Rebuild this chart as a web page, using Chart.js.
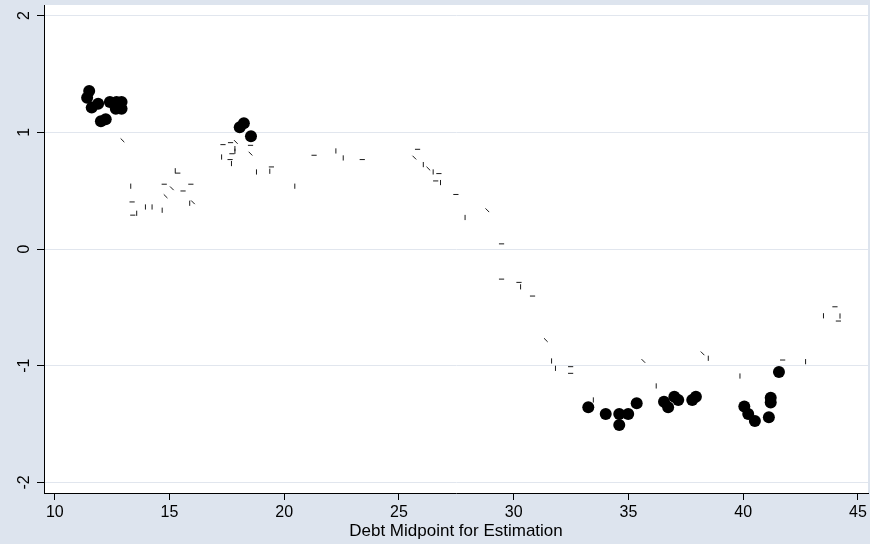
<!DOCTYPE html>
<html lang="en">
<head>
<meta charset="UTF-8">
<title>Debt Midpoint for Estimation</title>
<script src="https://cdn.jsdelivr.net/npm/chart.js"></script>
<style>
  html, body { margin: 0; padding: 0; background: #dde4ee; }
  canvas { display: block; }
</style>
</head>
<body>
<canvas id="chart" width="870" height="544"></canvas>
<script>
// large black markers
const dotX = [11.50, 11.41, 11.61, 11.89, 12.01, 12.22, 12.40, 12.69, 12.91, 12.66, 12.91,
              18.06, 18.24, 18.55,
              33.25, 34.01, 34.60, 34.60, 34.99, 35.36, 36.55, 36.73, 37.00, 37.17, 37.78, 37.94,
              40.05, 40.22, 40.51, 41.12, 41.20, 41.20, 41.56];
const dotY = [1.353, 1.296, 1.211, 1.245, 1.094, 1.111, 1.259, 1.259, 1.259, 1.202, 1.202,
              1.042, 1.077, 0.965,
              -1.355, -1.413, -1.413, -1.507, -1.413, -1.321, -1.308, -1.355, -1.265, -1.293, -1.293, -1.265,
              -1.350, -1.413, -1.473, -1.441, -1.275, -1.315, -1.053];

// small flat dashes
const flatX = [15.36, 14.77, 15.59, 15.93, 13.37, 13.40,
               17.33, 17.66, 17.72, 17.64, 18.53, 19.44, 21.30, 23.40,
               25.81, 26.74, 26.60, 27.48, 29.47, 29.47, 30.23, 30.82, 32.48, 32.48,
               41.72, 44.00, 44.15];
const flatY = [0.650, 0.555, 0.497, 0.555, 0.403, 0.290,
               0.894, 0.911, 0.816, 0.766, 0.888, 0.703, 0.803, 0.766,
               0.854, 0.646, 0.583, 0.467, 0.044, -0.258, -0.286, -0.403, -1.008, -1.065,
               -0.951, -0.495, -0.617];

// small upright dashes
const uprightX = [15.25, 13.31, 15.88, 13.95, 14.24, 14.68, 13.57,
                  17.85, 17.85, 17.70, 17.27, 18.79, 19.37, 20.46, 22.25, 22.57,
                  26.06, 26.49, 26.81, 27.88, 30.30, 31.65, 31.82,
                  33.47, 36.21, 38.48, 39.86, 42.72, 43.50, 44.22];
const uprightY = [0.670, 0.538, 0.392, 0.360, 0.360, 0.332, 0.306,
                  0.860, 0.837, 0.732, 0.788, 0.660, 0.666, 0.538, 0.840, 0.780,
                  0.723, 0.660, 0.569, 0.270, -0.324, -0.959, -1.022,
                  -1.293, -1.173, -0.936, -1.088, -0.965, -0.572, -0.574];

// small slanted dashes
const slantX = [12.95, 15.10, 14.83, 16.02, 17.89, 18.53, 25.67, 26.28, 28.85, 31.40, 35.65, 38.23];
const slantY = [0.931, 0.520, 0.452, 0.400, 0.917, 0.817, 0.783, 0.689, 0.332, -0.780, -0.959, -0.894];

const xTicks = [10, 15, 20, 25, 30, 35, 40, 45];
const yTicks = [-2, -1, 0, 1, 2];

const FONT = '"Liberation Sans", Arial, sans-serif';

function pts(xs, ys) {
    return xs.map((x, i) => ({x: x, y: ys[i]}));
}

function dashSet(xs, ys, angle) {
    return {
        data: pts(xs, ys),
        pointStyle: 'line',
        rotation: angle,
        pointRadius: 2.6,
        borderColor: '#1a1a1a',
        borderWidth: 1,
        showLine: false
    };
}

const background = {
    id: 'background',
    beforeDraw: (chart) => {
        const {ctx, chartArea: a} = chart;
        ctx.save();
        ctx.fillStyle = '#dde4ee';
        ctx.fillRect(0, 0, chart.width, chart.height);
        ctx.fillStyle = '#ffffff';
        ctx.fillRect(a.left, a.top, a.right - a.left, a.bottom - a.top);
        ctx.restore();
    }
};

// y labels are drawn turned, reading upward
const yLabels = {
    id: 'yLabels',
    afterDraw: (chart) => {
        const {ctx, scales} = chart;
        ctx.save();
        ctx.font = '16px ' + FONT;
        ctx.fillStyle = '#000';
        ctx.textAlign = 'center';
        ctx.textBaseline = 'middle';
        scales.y.ticks.forEach(t => {
            const py = scales.y.getPixelForValue(t.value);
            ctx.save();
            ctx.translate(25, py);
            ctx.rotate(-Math.PI / 2);
            ctx.fillText(String(t.value), 0, 0);
            ctx.restore();
        });
        ctx.restore();
    }
};

new Chart(document.getElementById('chart').getContext('2d'), {
    type: 'scatter',
    data: {
        datasets: [
            dashSet(flatX, flatY, 0),
            dashSet(uprightX, uprightY, 90),
            dashSet(slantX, slantY, 45),
            {
                data: pts(dotX, dotY),
                pointStyle: 'circle',
                pointRadius: 6,
                backgroundColor: '#000',
                borderWidth: 0
            }
        ]
    },
    options: {
        responsive: false,
        animation: false,
        layout: {autoPadding: false, padding: {top: 5, right: 2, left: 0, bottom: 0}},
        plugins: {
            legend: {display: false},
            tooltip: {enabled: false}
        },
        scales: {
            x: {
                type: 'linear',
                min: 9.53,
                max: 45.44,
                afterBuildTicks: (s) => { s.ticks = xTicks.map(v => ({value: v})); },
                afterFit: (s) => {
                    s.height = 51;
                    s.paddingLeft = 0;
                    s.paddingRight = 0;
                },
                grid: {display: true, drawOnChartArea: false, drawTicks: true, tickLength: 7, tickColor: '#000'},
                border: {display: true, color: '#000', width: 1},
                ticks: {color: '#000', font: {family: FONT, size: 16}, padding: 3, maxRotation: 0, autoSkip: false},
                title: {
                    display: true,
                    text: 'Debt Midpoint for Estimation',
                    color: '#000',
                    font: {family: FONT, size: 17},
                    padding: {top: 0, bottom: 2}
                }
            },
            y: {
                type: 'linear',
                min: -2.09,
                max: 2.09,
                afterBuildTicks: (s) => { s.ticks = yTicks.map(v => ({value: v})); },
                afterFit: (s) => { s.width = 44; },
                grid: {color: '#e1e6ee', tickColor: '#000', tickLength: 7, lineWidth: 1},
                border: {display: true, color: '#000', width: 1},
                ticks: {display: false}
            }
        }
    },
    plugins: [background, yLabels]
});
</script>
</body>
</html>
